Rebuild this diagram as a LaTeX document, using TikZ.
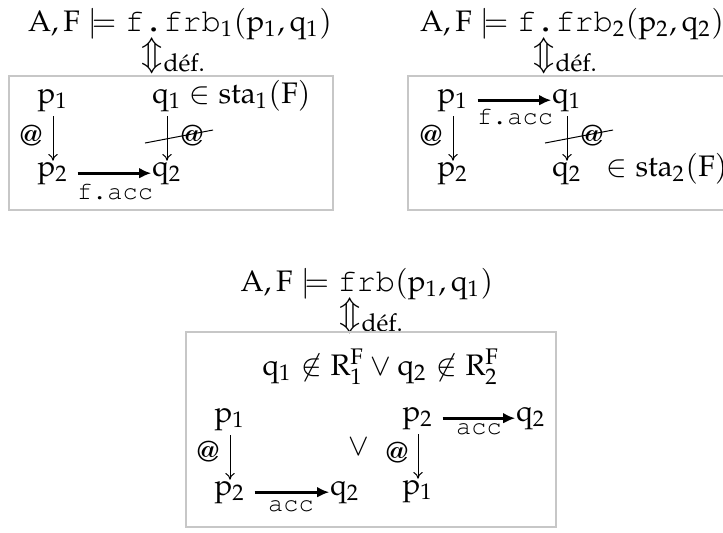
\documentclass[tikz,border=0pt]{standalone}
\usepackage[T1]{fontenc}
\usepackage{amsmath}
\usepackage{mathpazo}
\usepackage{courier}
\usetikzlibrary{arrows.meta}
\newcommand{\tx}[1]{\mbox{\fontsize{9.6}{11}\selectfont\ttfamily #1}}
\newcommand{\up}[1]{\mathrm{#1}}
\newcommand{\defeq}{\Updownarrow_{\mbox{\fontsize{7.4}{8}\selectfont d\'ef.}}}
\begin{document}
\begin{tikzpicture}[x=0.3pt,y=-0.3pt,
  every node/.style={inner sep=0pt, outer sep=0pt, font=\fontsize{8.9}{11}\selectfont},
  frame/.style={draw=black!22, line width=0.45pt},
  thinarrow/.style={-{To[length=2pt,width=2.8pt]}, line width=0.3pt, shorten <=1.4pt, shorten >=0.4pt},
  thickarrow/.style={-{Latex[length=3.6pt,width=3.2pt]}, line width=1pt, shorten <=2.8pt, shorten >=0.3pt},
  lbl/.style={font=\fontsize{7.6}{9}\selectfont\ttfamily},
  atlbl/.style={font=\fontsize{8.8}{10}\selectfont},
  eqv/.style={font=\fontsize{10}{12}\selectfont},
  strike/.style={line width=0.3pt}]
\useasboundingbox (0,0) rectangle (723,532);
\clip (0,0) rectangle (723,532);

% ---------- top left ----------
\node[anchor=base] (f1) at (180,31) {$\up{A},\up{F}\models \tx{f.frb}_1(\up{p}_1,\up{q}_1)$};
\node[eqv] (d1) at (174,56) {$\defeq$};
\draw[frame] (9,76) rectangle (333,210);
\node[anchor=base] (a1) at (53,103) {$\up{p}_1$};
\node[anchor=base] (b1) at (167,103) {$\up{q}_1$};
\node[anchor=base west] (s1) at (189,103) {$\in \up{sta}_1(\up{F})$};
\node[anchor=base] (a2) at (53,176) {$\up{p}_2$};
\node[anchor=base] (b2) at (167,176) {$\up{q}_2$};
\draw[thinarrow] (a1) -- (a2);
\draw[thinarrow] (b1) -- (b2);
\draw[thickarrow] (a2) -- (b2);
\node[lbl] (l1) at (115,192) {f.acc};
\node[atlbl] (at1) at (31,136) {@};
\node[atlbl] (at2) at (192,136) {@};
\coordinate (x1a) at (145,143);
\coordinate (x1b) at (213,130);
\draw[strike] (x1a) -- (x1b);

% ---------- top right ----------
\node[anchor=base] (f2) at (572,31) {$\up{A},\up{F}\models \tx{f.frb}_2(\up{p}_2,\up{q}_2)$};
\node[eqv] (d2) at (566,56) {$\defeq$};
\draw[frame] (408,76) rectangle (735,210);
\node[anchor=base] (c1) at (453,103) {$\up{p}_1$};
\node[anchor=base] (e1) at (567,103) {$\up{q}_1$};
\node[anchor=base] (c2) at (453,176) {$\up{p}_2$};
\node[anchor=base] (e2) at (567,176) {$\up{q}_2$};
\node[anchor=base west] (s2) at (606,176) {$\in \up{sta}_2(\up{F})$};
\draw[thickarrow] (c1) -- (e1);
\draw[thinarrow] (c1) -- (c2);
\draw[thinarrow] (e1) -- (e2);
\node[lbl] (l2) at (515,117) {f.acc};
\node[atlbl] (at3) at (431,136) {@};
\node[atlbl] (at4) at (592,136) {@};
\coordinate (x2a) at (545,143);
\coordinate (x2b) at (613,130);
\draw[strike] (x2a) -- (x2b);

% ---------- bottom ----------
\node[anchor=base] (f3) at (367,291) {$\up{A},\up{F}\models \tx{frb}(\up{p}_1,\up{q}_1)$};
\node[eqv] (d3) at (372,316) {$\defeq$};
\draw[frame] (186,332) rectangle (556,527);
\node[anchor=base] (g0) at (381,375) {$\up{q}_1\not\in \up{R}^{\up{F}}_1 \vee \up{q}_2 \not\in \up{R}^{\up{F}}_2$};
\node[anchor=base] (g1) at (230,422) {$\up{p}_1$};
\node[anchor=base] (g2) at (230,495) {$\up{p}_2$};
\node[anchor=base] (g3) at (345,495) {$\up{q}_2$};
\draw[thinarrow] (g1) -- (g2);
\draw[thickarrow] (g2) -- (g3);
\node[lbl] (l3) at (291,506) {acc};
\node[atlbl] (at5) at (208,452) {@};
\node (or) at (359,447) {$\vee$};
\node[anchor=base] (h1) at (418,421) {$\up{p}_2$};
\node[anchor=base] (h2) at (531,421) {$\up{q}_2$};
\node[anchor=base] (h3) at (418,494) {$\up{p}_1$};
\draw[thickarrow] (h1) -- (h2);
\draw[thinarrow] (h1) -- (h3);
\node[lbl] (l4) at (479,429) {acc};
\node[atlbl] (at6) at (397,453) {@};
\end{tikzpicture}
\end{document}
